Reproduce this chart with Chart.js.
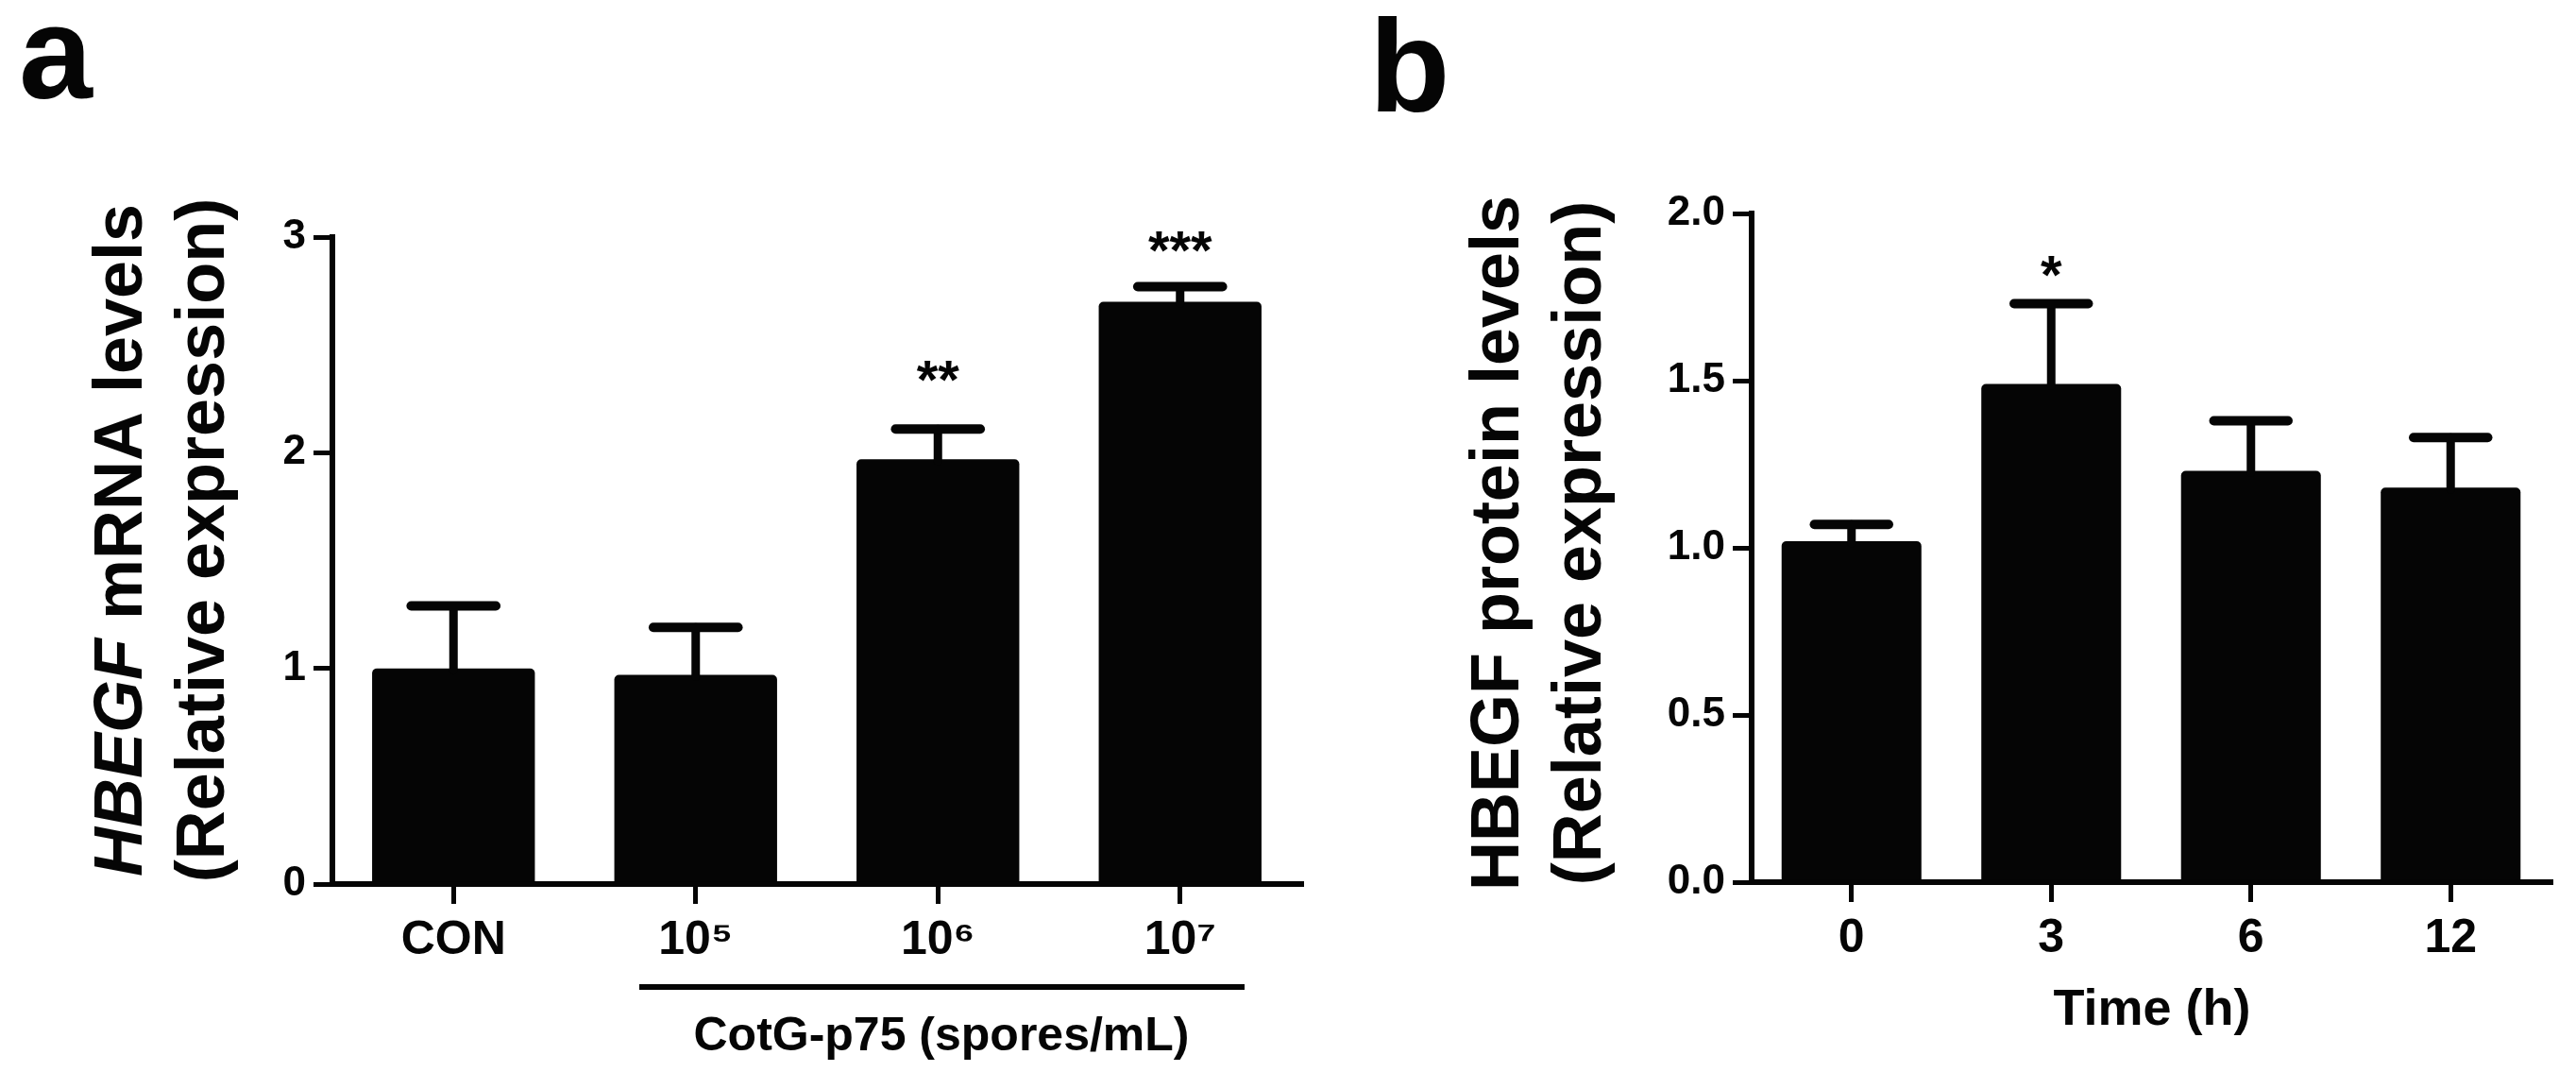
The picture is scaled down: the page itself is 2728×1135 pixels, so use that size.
<!DOCTYPE html>
<html>
<head>
<meta charset="utf-8">
<script src="https://cdn.jsdelivr.net/npm/chart.js@4.4.1/dist/chart.umd.min.js"></script>
<style>
  html, body { margin: 0; padding: 0; background: #ffffff; }
  #wrap { position: relative; width: 2728px; height: 1135px; overflow: hidden; background: #ffffff; }
  .panel { position: absolute; top: 0; height: 1135px; }
</style>
</head>
<body>
<div id="wrap">
  <div class="panel" style="left:0;width:1400px;"><canvas id="chartA"></canvas></div>
  <div class="panel" style="left:1400px;width:1328px;"><canvas id="chartB"></canvas></div>
</div>
<script>
// ---------------- DATA ----------------
// Panel a: HBEGF mRNA levels
const categoriesA = ['CON', '10\u2075', '10\u2076', '10\u2077'];
const mrnaMeans   = [1.00, 0.97, 1.97, 2.70];
const mrnaErrors  = [0.29, 0.22, 0.14, 0.07];
const mrnaStars   = ['', '', '**', '***'];
const mrnaStarLevels = [null, null, 2.39, 2.99];
const yTicksA     = [0, 1, 2, 3];

// Panel b: HBEGF protein levels
const categoriesB   = ['0', '3', '6', '12'];
const proteinMeans  = [1.02, 1.49, 1.23, 1.18];
const proteinErrors = [0.05, 0.24, 0.15, 0.15];
const proteinStars  = ['', '*', '', ''];
const proteinStarLevels = [null, 1.85, null, null];
const yTicksB       = [0, 0.5, 1.0, 1.5, 2.0];

// ---------------- STYLE ----------------
const FONT = '"Liberation Sans", Arial, Helvetica, sans-serif';
const INK = '#050505';
Chart.defaults.font.family = FONT;
Chart.defaults.color = INK;

// Error bars + significance stars
const errorBarPlugin = {
  id: 'errorBars',
  afterDatasetsDraw(chart, args, opts) {
    const ctx = chart.ctx;
    const meta = chart.getDatasetMeta(0);
    const ys = chart.scales.y;
    const vals = opts.values, errs = opts.errors, stars = opts.stars, levels = opts.levels;
    ctx.save();
    ctx.strokeStyle = INK;
    ctx.fillStyle = INK;
    ctx.lineCap = 'round';
    meta.data.forEach((bar, i) => {
      const x = bar.x;
      const y0 = ys.getPixelForValue(vals[i]);
      const y1 = ys.getPixelForValue(vals[i] + errs[i]);
      const hw = bar.width * opts.capRatio / 2;
      ctx.lineWidth = opts.stemWidth;
      ctx.beginPath(); ctx.moveTo(x, y0 + 2); ctx.lineTo(x, y1); ctx.stroke();
      ctx.lineWidth = opts.capWidth;
      ctx.beginPath(); ctx.moveTo(x - hw, y1); ctx.lineTo(x + hw, y1); ctx.stroke();
      if (stars[i]) {
        const fs = opts.starSize;
        ctx.font = 'bold ' + fs + 'px ' + FONT;
        ctx.textAlign = 'center';
        ctx.textBaseline = 'alphabetic';
        const cy = ys.getPixelForValue(levels[i]);
        ctx.fillText(stars[i], x, cy + 0.55 * fs);
      }
    });
    ctx.restore();
  }
};

// Annotation text (panel letter, rotated y titles, extra x annotations)
const annotPlugin = {
  id: 'annot',
  afterDraw(chart, args, opts) {
    const ctx = chart.ctx;
    ctx.save();
    ctx.fillStyle = INK;
    ctx.strokeStyle = INK;
    // panel letter
    ctx.font = 'bold ' + opts.letter.size + 'px ' + FONT;
    ctx.textAlign = 'left';
    ctx.textBaseline = 'alphabetic';
    ctx.fillText(opts.letter.text, opts.letter.x, opts.letter.y);
    // y-axis title lines (rotated, reading bottom-to-top)
    opts.ytitle.lines.forEach(line => {
      ctx.save();
      ctx.translate(line.x, opts.ytitle.cy);
      ctx.rotate(-Math.PI / 2);
      ctx.textBaseline = 'alphabetic';
      ctx.textAlign = 'left';
      let total = 0;
      const widths = line.segs.map(s => {
        ctx.font = s.style + ' ' + opts.ytitle.size + 'px ' + FONT;
        const w = ctx.measureText(s.text).width; total += w; return w;
      });
      let px = -total / 2;
      line.segs.forEach((s, k) => {
        ctx.font = s.style + ' ' + opts.ytitle.size + 'px ' + FONT;
        ctx.fillText(s.text, px, 0);
        px += widths[k];
      });
      ctx.restore();
    });
    // extra x annotations
    (opts.lines || []).forEach(l => {
      ctx.lineWidth = l.w;
      ctx.beginPath(); ctx.moveTo(l.x0, l.y); ctx.lineTo(l.x1, l.y); ctx.stroke();
    });
    (opts.texts || []).forEach(t => {
      ctx.font = 'bold ' + t.size + 'px ' + FONT;
      ctx.textAlign = 'center';
      ctx.textBaseline = 'middle';
      ctx.fillText(t.text, t.x, t.y);
    });
    ctx.restore();
  }
};

function makeChart(id, cfg) {
  return new Chart(document.getElementById(id), {
    type: 'bar',
    data: {
      labels: cfg.labels,
      datasets: [{
        data: cfg.values,
        backgroundColor: INK,
        borderWidth: 0,
        borderRadius: 5,
        barPercentage: cfg.barPct,
        categoryPercentage: 1.0
      }]
    },
    options: {
      responsive: true,
      maintainAspectRatio: false,
      animation: false,
      devicePixelRatio: 1,
      layout: { padding: { left: 0, right: cfg.padRight, top: cfg.padTop, bottom: 0 } },
      plugins: {
        legend: { display: false },
        tooltip: { enabled: false },
        errorBars: cfg.err,
        annot: cfg.annot
      },
      scales: {
        x: {
          offset: true,
          grid: { display: true, drawOnChartArea: false, offset: false, drawTicks: true,
                  tickLength: 21, color: INK, lineWidth: 5 },
          border: { display: true, color: INK, width: 6 },
          ticks: { font: { size: 50, weight: 'bold' }, color: INK, padding: 9, maxRotation: 0, autoSkip: false },
          afterFit: s => { s.height = cfg.xHeight; }
        },
        y: {
          min: cfg.yMin, max: cfg.yMax,
          afterBuildTicks: s => { s.ticks = cfg.yTicks.map(v => ({ value: v })); },
          grid: { display: true, drawOnChartArea: false, drawTicks: true, tickLength: 20, color: INK, lineWidth: 5 },
          border: { display: true, color: INK, width: 6 },
          ticks: { font: { size: 44, weight: 'bold' }, color: INK, padding: 8,
                   callback: cfg.tickFmt },
          afterFit: s => { s.width = cfg.yWidth; }
        }
      }
    },
    plugins: [errorBarPlugin, annotPlugin]
  });
}

makeChart('chartA', {
  labels: categoriesA,
  values: mrnaMeans,
  barPct: 0.672,
  padRight: 22, padTop: 251, xHeight: 199, yWidth: 352,
  yMin: 0, yMax: 3, yTicks: yTicksA,
  tickFmt: v => String(v),
  err: { values: mrnaMeans, errors: mrnaErrors, stars: mrnaStars, levels: mrnaStarLevels,
         capRatio: 0.52, stemWidth: 9, capWidth: 10, starSize: 58 },
  annot: {
    letter: { text: 'a', x: 20, y: 104, size: 140 },
    ytitle: { cy: 572, size: 72, lines: [
      { x: 150, segs: [{ text: 'HBEGF', style: 'italic bold' }, { text: ' mRNA levels', style: 'bold' }] },
      { x: 237, segs: [{ text: '(Relative expression)', style: 'bold' }] }
    ]},
    lines: [{ x0: 677, x1: 1318, y: 1045, w: 6 }],
    texts: [{ text: 'CotG-p75 (spores/mL)', x: 997, y: 1098, size: 50 }]
  }
});

makeChart('chartB', {
  labels: categoriesB,
  values: proteinMeans,
  barPct: 0.70,
  padRight: 27, padTop: 226, xHeight: 201, yWidth: 455,
  yMin: 0, yMax: 2, yTicks: yTicksB,
  tickFmt: v => Number(v).toFixed(1),
  err: { values: proteinMeans, errors: proteinErrors, stars: proteinStars, levels: proteinStarLevels,
         capRatio: 0.53, stemWidth: 9, capWidth: 10, starSize: 58 },
  annot: {
    letter: { text: 'b', x: 50, y: 118, size: 140 },
    ytitle: { cy: 575, size: 72, lines: [
      { x: 208, segs: [{ text: 'HBEGF protein levels', style: 'bold' }] },
      { x: 295, segs: [{ text: '(Relative expression)', style: 'bold' }] }
    ]},
    texts: [{ text: 'Time (h)', x: 879, y: 1070, size: 54 }]
  }
});
</script>
</body>
</html>
